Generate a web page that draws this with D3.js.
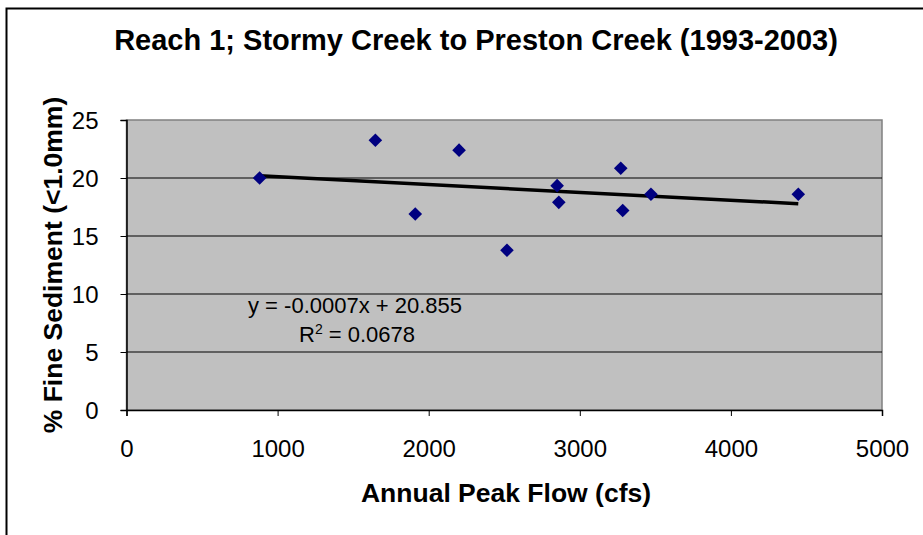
<!DOCTYPE html>
<html lang="en">
  <head>
    <meta charset="utf-8">
    <title>Reach 1</title>
    <script src="https://d3js.org/d3.v7.min.js"></script>
    <style>
      body { margin: 0; background: #fff; }
      text { font-family: "Liberation Sans", Arial, sans-serif; }
    </style>
  </head>
  <body>
    <script>
      // data
      let peakFlow = [881, 1647, 1911, 2201, 2518, 2850, 2861, 3271, 3284, 3471, 4446];
      let fineSed  = [20.0, 23.25, 16.9, 22.4, 13.77, 19.34, 17.9, 20.84, 17.2, 18.6, 18.6];
      let xTicks = [0, 1000, 2000, 3000, 4000, 5000];
      let yTicks = [0, 5, 10, 15, 20, 25];
      let eqLabel = "y = -0.0007x + 20.855";
      let r2Label = "0.0678";

      let w = 923, h = 535;
      let pLeft = 126.5, pRight = 882, pTop = 120, pBottom = 410;

      let svg = d3.select("body").append("svg")
                  .attr("width", w)
                  .attr("height", h);

      // outer frame
      svg.append("rect")
         .attr("x", 6.5).attr("y", 8.5)
         .attr("width", w + 10).attr("height", h + 10)
         .attr("fill", "white").attr("stroke", "black").attr("stroke-width", 2);

      let x = d3.scaleLinear().domain([0, 5000]).range([pLeft, pRight]);
      let y = d3.scaleLinear().domain([0, 25]).range([pBottom, pTop]);

      // plot area
      svg.append("rect")
         .attr("x", pLeft).attr("y", pTop)
         .attr("width", pRight - pLeft).attr("height", pBottom - pTop)
         .attr("fill", "#c0c0c0").attr("stroke", "#808080").attr("stroke-width", 1.5);

      // gridlines
      svg.selectAll("line.grid")
         .data(yTicks.filter(d => d > 0 && d < 25))
         .enter().append("line")
         .attr("class", "grid")
         .attr("x1", pLeft).attr("x2", pRight)
         .attr("y1", d => y(d)).attr("y2", d => y(d))
         .attr("stroke", "black").attr("stroke-width", 1);

      // axes
      let xAxis = svg.append("g")
         .attr("transform", "translate(0," + pBottom + ")")
         .call(d3.axisBottom(x).tickValues(xTicks).tickSize(6).tickPadding(24).tickFormat(d3.format("d")));
      let yAxis = svg.append("g")
         .attr("transform", "translate(" + pLeft + ",0)")
         .call(d3.axisLeft(y).tickValues(yTicks).tickSize(6).tickPadding(22));
      [xAxis, yAxis].forEach(function(a) {
        a.select(".domain").attr("stroke", "black").attr("stroke-width", 1.5);
        a.selectAll(".tick line").attr("stroke", "black");
        a.selectAll(".tick text").attr("font-size", "24px").attr("fill", "black")
         .attr("font-family", "Liberation Sans, Arial, sans-serif");
      });
      yAxis.selectAll(".tick text").attr("dy", "0.36em");

      // trend line (least squares)
      let n = peakFlow.length;
      let mx = d3.mean(peakFlow), my = d3.mean(fineSed);
      let sxy = 0, sxx = 0;
      for (let i = 0; i < n; i++) {
        sxy += (peakFlow[i] - mx) * (fineSed[i] - my);
        sxx += (peakFlow[i] - mx) * (peakFlow[i] - mx);
      }
      let slope = sxy / sxx;
      let icpt = my - slope * mx;
      let ext = d3.extent(peakFlow);
      svg.append("line")
         .attr("x1", x(ext[0])).attr("y1", y(icpt + slope * ext[0]))
         .attr("x2", x(ext[1])).attr("y2", y(icpt + slope * ext[1]))
         .attr("stroke", "black").attr("stroke-width", 3.5);

      // diamonds
      svg.selectAll("path.pt")
         .data(peakFlow)
         .enter().append("path")
         .attr("class", "pt")
         .attr("d", d3.symbol().type(d3.symbolDiamond2).size(118))
         .attr("transform", (d, i) => "translate(" + x(d) + "," + y(fineSed[i]) + ")")
         .attr("fill", "#000080");

      // equation labels
      svg.append("text")
         .attr("x", 248).attr("y", 313)
         .attr("font-size", "22px")
         .text(eqLabel);
      let r2 = svg.append("text")
         .attr("x", 299).attr("y", 342)
         .attr("font-size", "22px");
      r2.append("tspan").text("R");
      r2.append("tspan").attr("font-size", "14px").attr("dy", -8).text("2");
      r2.append("tspan").attr("dy", 8).text(" = " + r2Label);

      // title and axis titles
      svg.append("text")
         .attr("x", 476).attr("y", 50)
         .attr("text-anchor", "middle")
         .attr("font-size", "29px").attr("font-weight", "bold")
         .text("Reach 1; Stormy Creek to Preston Creek (1993-2003)");

      svg.append("text")
         .attr("x", 506).attr("y", 502)
         .attr("text-anchor", "middle")
         .attr("font-size", "26.5px").attr("font-weight", "bold")
         .text("Annual Peak Flow (cfs)");

      svg.append("text")
         .attr("transform", "translate(62,265) rotate(-90)")
         .attr("text-anchor", "middle")
         .attr("font-size", "26.5px").attr("font-weight", "bold")
         .text("% Fine Sediment (<1.0mm)");
    </script>
  </body>
</html>
